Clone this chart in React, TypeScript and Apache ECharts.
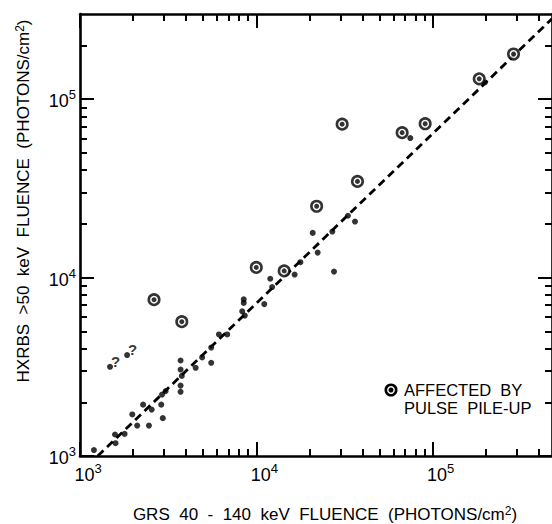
import React, { useEffect, useRef } from "react";
import * as echarts from "echarts";

// GRS 40-140 keV fluence (x) vs HXRBS >50 keV fluence (y), photons/cm^2
const plainFlares: number[][] = [
  [1200, 1080], [1580, 1320], [1590, 1180], [1790, 1330], [1980, 1710],
  [2110, 1480], [2280, 1940], [2460, 1480], [2550, 1820], [2890, 1940],
  [2950, 1630], [2920, 2210], [3060, 2310], [3720, 3430], [3720, 3050],
  [3780, 2810], [3720, 2480], [3720, 2290], [4530, 3120], [4930, 3570],
  [5550, 3330], [5550, 4050], [6140, 4800], [6840, 4800], [8490, 7550],
  [8490, 7210], [8320, 6470], [8610, 6120], [11100, 7100], [12000, 9850],
  [12300, 8850], [16500, 10400], [17800, 12200], [20900, 17800], [22300, 13800],
  [27600, 10800], [27000, 18100], [33100, 22200], [36300, 20600], [74800, 60500],
  [198000, 124000],
];

const pileUpFlares: number[][] = [
  [2630, 7520], [3780, 5660], [10000, 11400], [14400, 10900], [22000, 25100],
  [30700, 72400], [37500, 34600], [67200, 64900], [90800, 72800],
  [184000, 130000], [288000, 179000],
];

const uncertainFlares: number[][] = [
  [1480, 3160], [1850, 3680],
];

const fitLine: number[][] = [
  [1260, 1000], [476000, 282000],
];

const xMajorTicks = [1e3, 1e4, 1e5];
const xMinorTicks = [
  2e3, 3e3, 4e3, 5e3, 6e3, 7e3, 8e3, 9e3,
  2e4, 3e4, 4e4, 5e4, 6e4, 7e4, 8e4, 9e4,
  2e5, 3e5, 4e5,
];
const yMajorTicks = [1e3, 1e4, 1e5];
const yMinorTicks = [
  2e3, 3e3, 4e3, 5e3, 6e3, 7e3, 8e3, 9e3,
  2e4, 3e4, 4e4, 5e4, 6e4, 7e4, 8e4, 9e4,
  2e5,
];

const X_MIN = 1e3;
const X_MAX = 476000;
const Y_MIN = 1e3;
const Y_MAX = 3e5;

const xTitle = "GRS  40  -  140  keV  FLUENCE  (PHOTONS/cm";
const yTitle = "HXRBS  >50  keV  FLUENCE  (PHOTONS/cm";
const legendLines = ["AFFECTED  BY", "PULSE  PILE-UP"];

const FONT = "'Liberation Sans', Arial, Helvetica, sans-serif";
const BLACK = "#000";

const labelRich = {
  b: { fontSize: 18, fontFamily: FONT, color: BLACK, verticalAlign: "bottom", lineHeight: 22 },
  s: { fontSize: 13, fontFamily: FONT, color: BLACK, verticalAlign: "top", lineHeight: 22 },
};

const expFormatter = (v: number) => `{b|10}{s|${Math.round(Math.log10(v))}}`;

function makeAxis(
  kind: "x" | "y",
  position: string,
  ticks: number[],
  len: number,
  withLine: boolean,
  label: any
) {
  return {
    type: "log",
    logBase: 10,
    min: kind === "x" ? X_MIN : Y_MIN,
    max: kind === "x" ? X_MAX : Y_MAX,
    position,
    gridIndex: 0,
    axisLine: {
      show: withLine,
      onZero: false,
      lineStyle: { color: BLACK, width: 2.6 },
    },
    axisTick: {
      show: true,
      inside: true,
      length: len,
      customValues: ticks,
      lineStyle: { color: BLACK, width: 2 },
    },
    axisLabel: label || { show: false },
    splitLine: { show: false },
    minorTick: { show: false },
  };
}

const titleRich = {
  n: { fontSize: 17, fontFamily: FONT, fill: BLACK, verticalAlign: "bottom", lineHeight: 18 },
  s: { fontSize: 12, fontFamily: FONT, fill: BLACK, verticalAlign: "top", lineHeight: 18 },
};

const App = () => {
  const ref = useRef<HTMLDivElement>(null);

  useEffect(() => {
    if (!ref.current) return;
    const chart = echarts.init(ref.current, null, { renderer: "svg" });

    const xLabel = {
      show: true,
      customValues: xMajorTicks,
      formatter: expFormatter,
      rich: labelRich,
      margin: 6,
      padding: [0, 0, 0, 16],
    };
    const yLabel = {
      show: true,
      customValues: yMajorTicks,
      formatter: expFormatter,
      rich: labelRich,
      margin: 4,
    };

    const option: any = {
      animation: false,
      backgroundColor: "#fff",
      grid: { left: 80, right: -2, top: 14, bottom: 68, containLabel: false },
      xAxis: [
        makeAxis("x", "bottom", xMajorTicks, 14, true, xLabel),
        makeAxis("x", "top", xMajorTicks, 14, true, null),
        makeAxis("x", "bottom", xMinorTicks, 7, false, null),
        makeAxis("x", "top", xMinorTicks, 7, false, null),
      ],
      yAxis: [
        makeAxis("y", "left", yMajorTicks, 14, true, yLabel),
        makeAxis("y", "right", yMajorTicks, 14, true, null),
        makeAxis("y", "left", yMinorTicks, 7, false, null),
        makeAxis("y", "right", yMinorTicks, 7, false, null),
      ],
      series: [
        {
          name: "fit",
          type: "line",
          xAxisIndex: 0,
          yAxisIndex: 0,
          data: fitLine,
          symbol: "none",
          clip: true,
          lineStyle: { color: BLACK, width: 2.8, type: [8, 5] },
          z: 1,
        },
        {
          name: "flares",
          type: "scatter",
          xAxisIndex: 0,
          yAxisIndex: 0,
          data: plainFlares,
          symbol: "circle",
          symbolSize: 6,
          itemStyle: { color: BLACK },
          z: 2,
        },
        {
          name: "uncertain",
          type: "scatter",
          xAxisIndex: 0,
          yAxisIndex: 0,
          data: uncertainFlares,
          symbol: "circle",
          symbolSize: 6,
          itemStyle: { color: BLACK },
          label: {
            show: true,
            formatter: "?",
            position: [4, 5],
            align: "left",
            verticalAlign: "bottom",
            fontSize: 15,
            fontWeight: "bold",
            fontFamily: FONT,
            color: BLACK,
          },
          z: 2,
        },
        {
          name: "pile-up ring",
          type: "scatter",
          xAxisIndex: 0,
          yAxisIndex: 0,
          data: pileUpFlares,
          symbol: "circle",
          symbolSize: 10.5,
          itemStyle: { color: "#fff", borderColor: BLACK, borderWidth: 2.6 },
          z: 3,
        },
        {
          name: "pile-up dot",
          type: "scatter",
          xAxisIndex: 0,
          yAxisIndex: 0,
          data: pileUpFlares,
          symbol: "circle",
          symbolSize: 5,
          itemStyle: { color: BLACK },
          z: 4,
        },
      ],
      graphic: [
        {
          type: "text",
          x: 325,
          y: 514,
          style: {
            text: `{n|${xTitle}}{s|2}{n|)}`,
            align: "center",
            verticalAlign: "middle",
            rich: titleRich,
          },
        },
        {
          type: "text",
          x: 23,
          y: 201,
          rotation: Math.PI / 2,
          style: {
            text: `{n|${yTitle}}{s|2}{n|)}`,
            align: "center",
            verticalAlign: "middle",
            rich: titleRich,
          },
        },
        {
          type: "circle",
          shape: { cx: 391, cy: 390, r: 5.2 },
          style: { fill: "#fff", stroke: BLACK, lineWidth: 2.6 },
        },
        {
          type: "circle",
          shape: { cx: 391, cy: 390, r: 2.5 },
          style: { fill: BLACK },
        },
        {
          type: "text",
          x: 404,
          y: 390,
          style: {
            text: legendLines[0],
            fontSize: 16.5,
            fontFamily: FONT,
            fill: BLACK,
            align: "left",
            verticalAlign: "middle",
          },
        },
        {
          type: "text",
          x: 404,
          y: 407.5,
          style: {
            text: legendLines[1],
            fontSize: 16.5,
            fontFamily: FONT,
            fill: BLACK,
            align: "left",
            verticalAlign: "middle",
          },
        },
      ],
    };

    chart.setOption(option);
    return () => chart.dispose();
  }, []);

  return (
    <div
      ref={ref}
      style={{
        position: "absolute",
        left: 0,
        top: 0,
        width: 552,
        height: 524,
        background: "#fff",
      }}
    />
  );
};

export default App;
